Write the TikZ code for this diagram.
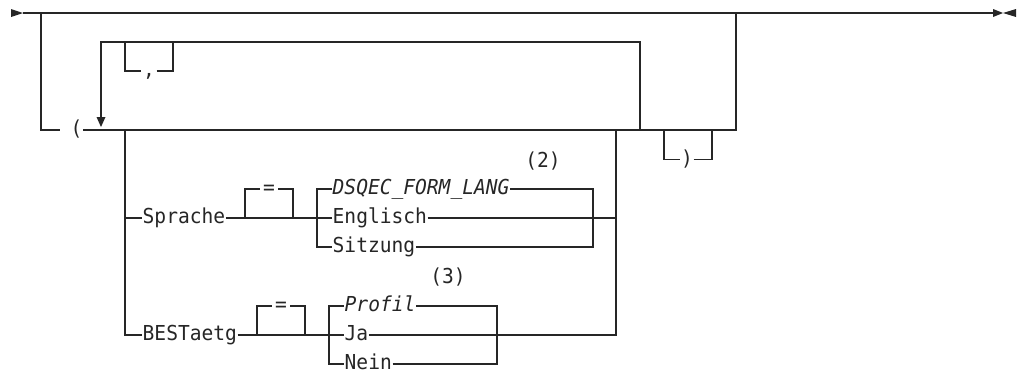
\documentclass[tikz,border=0pt]{standalone}
\usepackage{fontspec}
\newfontfamily\rrfont[FakeStretch=0.95]{DejaVu Sans Mono}
\newcommand\rrsize{\rrfont\fontsize{20.6}{22}\selectfont}
\tikzset{
  rr/.style={line width=1.1pt, draw=black!85},
  tri/.style={fill=black!85, draw=none},
  kw/.style={font=\rrsize, text=black!85, inner xsep=0.5pt, inner ysep=0pt, anchor=mid west},
  sym/.style={font=\rrsize, text=black!85, inner ysep=0pt, anchor=mid},
  note/.style={font=\rrsize, text=black!85, inner sep=0pt, anchor=center}
}
\begin{document}
\rrsize
\begin{tikzpicture}[x=1pt,y=-1pt]
\useasboundingbox (0,0) rectangle (1018,375);
% main line
\coordinate (s0) at (23,13);
\coordinate (s1) at (41,13);
\coordinate (s2) at (736,13);
\coordinate (s3) at (993,13);
\coordinate (s4) at (1003,13);
\fill[tri] (11,9) -- (s0) -- (11,17) -- cycle;
\fill[tri] (993,9) -- (s4) -- (993,17) -- cycle;
\fill[tri] (1016,9) -- (s4) -- (1016,17) -- cycle;
\draw[rr] (s0) -- (s3);
% optional group entry
\node[sym, inner xsep=0.5pt] (lpar) at (76.5,130) {(};
\coordinate (lpe) at (60,130);
\coordinate (m736) at (736,130);
\draw[rr] (s1) |- (lpe);
\draw[rr] (lpar.mid east) -- (m736) -- (s2);
% repeat loop
\coordinate (ra) at (101,117);
\coordinate (rt) at (101,127);
\coordinate (r0) at (101,42);
\coordinate (r1) at (640,42);
\coordinate (r2) at (640,130);
\draw[rr] (ra) -- (r0) -- (r1) -- (r2);
\fill[tri] (96.5,117) -- (105.5,117) -- (rt) -- cycle;
\coordinate (cb1) at (125,42);
\coordinate (cb2) at (173,42);
\node[sym, inner xsep=1.5pt] (comma) at (149,71) {,};
\draw[rr] (cb1) |- (comma.mid west);
\draw[rr] (comma.mid east) -| (cb2);
% closing paren box
\coordinate (p1) at (664,130);
\coordinate (p2) at (712,130);
\node[sym, inner xsep=0.5pt] (rpar) at (687,159.5) {)};
\draw[rr] (p1) |- (rpar.mid west);
\draw[rr] (rpar.mid east) -| (p2);
% branch
\coordinate (b0) at (125,130);
\coordinate (J1) at (125,218);
\coordinate (J2) at (125,335);
\coordinate (b1) at (616,130);
\coordinate (R1) at (616,218);
\coordinate (R2) at (616,335);
% Sprache row
\node[kw] (spr) at (142,218) {Sprache};
\coordinate (c1L) at (317,218);
\coordinate (c1R) at (593,218);
\coordinate (e1a) at (245,218);
\coordinate (e1b) at (293,218);
\node[sym, inner xsep=3pt] (eq1) at (269,189) {=};
\node[kw] (dsq) at (332,189) {\itshape DSQEC\_FORM\_LANG};
\node[kw] (eng) at (332,218) {Englisch};
\node[kw] (sit) at (332,247) {Sitzung};
\node[note] (n2) at (543,161) {(2)};
\draw[rr] (J1) -- (spr.mid west);
\draw[rr] (spr.mid east) -- (c1L) -- (eng.mid west);
\draw[rr] (e1a) |- (eq1.mid west);
\draw[rr] (eq1.mid east) -| (e1b);
\draw[rr] (c1L) |- (dsq.mid west);
\draw[rr] (c1L) |- (sit.mid west);
\draw[rr] (dsq.mid east) -| (c1R);
\draw[rr] (sit.mid east) -| (c1R);
\draw[rr] (eng.mid east) -- (R1);
% BESTaetg row
\node[kw] (best) at (142,335) {BESTaetg};
\coordinate (c2L) at (329,335);
\coordinate (c2R) at (497,335);
\coordinate (e2a) at (257,335);
\coordinate (e2b) at (305,335);
\node[sym, inner xsep=3pt] (eq2) at (281,306) {=};
\node[kw] (pro) at (344,306) {\itshape Profil};
\node[kw] (ja) at (344,335) {Ja};
\node[kw] (nein) at (344,364) {Nein};
\node[note] (n3) at (448,277.5) {(3)};
\draw[rr] (b0) -- (J2) -- (best.mid west);
\draw[rr] (best.mid east) -- (c2L) -- (ja.mid west);
\draw[rr] (e2a) |- (eq2.mid west);
\draw[rr] (eq2.mid east) -| (e2b);
\draw[rr] (c2L) |- (pro.mid west);
\draw[rr] (c2L) |- (nein.mid west);
\draw[rr] (pro.mid east) -| (c2R);
\draw[rr] (nein.mid east) -| (c2R);
\draw[rr] (ja.mid east) -- (R2) -- (b1);
\end{tikzpicture}
\end{document}
